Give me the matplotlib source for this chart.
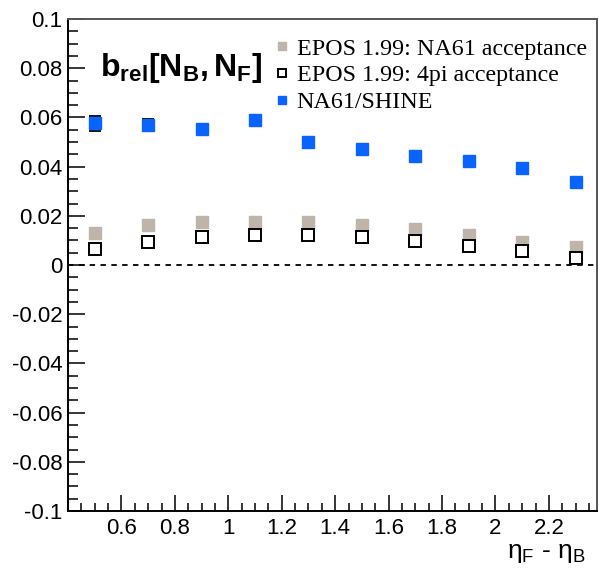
import numpy as np
import matplotlib
matplotlib.use('Agg')
import matplotlib.pyplot as plt
from matplotlib.ticker import MultipleLocator

plt.rcParams['font.family'] = ['Liberation Sans', 'DejaVu Sans']
plt.rcParams['mathtext.fontset'] = 'custom'
plt.rcParams['mathtext.rm'] = 'Liberation Sans'
plt.rcParams['mathtext.it'] = 'Liberation Sans:italic'
plt.rcParams['mathtext.bf'] = 'Liberation Sans:bold'

# eta_F - eta_B gap
eta_gap = [0.5, 0.7, 0.9, 1.1, 1.3, 1.5, 1.7, 1.9, 2.1, 2.3]

# NA61/SHINE data
na61 = [0.0576, 0.0570, 0.0553, 0.0590, 0.0502, 0.0473, 0.0445, 0.0423, 0.0393, 0.0336]
na61_err = [0.0030, 0.0025, 0.0012, 0.0008, 0.0008, 0.0008, 0.0008, 0.0008, 0.0008, 0.0012]

# EPOS 1.99 in NA61 acceptance
epos_na61 = [0.0131, 0.0161, 0.0176, 0.0176, 0.0176, 0.0163, 0.0148, 0.0121, 0.0094, 0.0072]

# EPOS 1.99 in full (4pi) acceptance
epos_4pi = [0.0064, 0.0092, 0.0115, 0.0121, 0.0121, 0.0113, 0.0099, 0.0077, 0.0056, 0.0027]

labels = ['EPOS 1.99: NA61 acceptance', 'EPOS 1.99: 4pi acceptance', 'NA61/SHINE']

GREY = '#bfb4aa'
BLUE = '#0a64fa'

fig = plt.figure(figsize=(5.99, 5.68), dpi=100)
ax = fig.add_axes([68 / 599, 1 - 511 / 568, 529 / 599, 492 / 568])

ax.axhline(0, color='black', lw=1.3, ls=(0, (3, 3)), zorder=1)

h1, = ax.plot(eta_gap, epos_na61, ls='none', marker='s', ms=8, mfc=GREY, mec=GREY, zorder=3)
h2, = ax.plot(eta_gap, epos_4pi, ls='none', marker='s', ms=8, mfc='white', mec='black', mew=1.4, zorder=3)
ax.errorbar(eta_gap, na61, yerr=na61_err, ls='none', color='black', elinewidth=1.3, capsize=4, capthick=1.3, zorder=2)
h3, = ax.plot(eta_gap, na61, ls='none', marker='s', ms=8, mfc=BLUE, mec=BLUE, zorder=4)

ax.set_xlim(0.4, 2.38)
ax.set_ylim(-0.1, 0.1)
ax.xaxis.set_major_locator(MultipleLocator(0.2))
ax.xaxis.set_minor_locator(MultipleLocator(0.05))
ax.yaxis.set_major_locator(MultipleLocator(0.02))
ax.yaxis.set_minor_locator(MultipleLocator(0.005))
ax.set_xticks([0.6, 0.8, 1.0, 1.2, 1.4, 1.6, 1.8, 2.0, 2.2])
ax.set_xticklabels(['0.6', '0.8', '1', '1.2', '1.4', '1.6', '1.8', '2', '2.2'])
ax.set_yticks(np.round(np.arange(-0.1, 0.1001, 0.02), 2))
ax.set_yticklabels(['-0.1', '-0.08', '-0.06', '-0.04', '-0.02', '0',
                    '0.02', '0.04', '0.06', '0.08', '0.1'])

ax.tick_params(which='both', direction='in', top=False, right=False, width=1.1, labelsize=16)
ax.tick_params(axis='x', which='major', length=11.5, pad=5)
ax.tick_params(axis='x', which='minor', length=6)
ax.tick_params(axis='y', which='major', length=12.5, pad=4)
ax.tick_params(axis='y', which='minor', length=7)
for side in ax.spines.values():
    side.set_linewidth(1.4)
ax.spines['right'].set_color('#555555')
ax.spines['top'].set_color('#555555')

ax.text(0.06, 0.9, r'$\mathbf{b_{rel}[N_{B},N_{F}]}$', transform=ax.transAxes,
        fontsize=23, ha='left', va='center')

ax.legend([h1, h2, h3], labels, loc='upper left', bbox_to_anchor=(0.373, 0.981),
          frameon=False, markerscale=0.8, handlelength=0.6, handletextpad=0.3,
          labelspacing=0.2, borderaxespad=0,
          prop={'family': 'Liberation Serif', 'size': 17.3})

fig.text(586 / 599, 1 - 553 / 568, r'$\mathregular{\eta_{F}}$ - $\mathregular{\eta_{B}}$',
         fontsize=19, ha='right', va='center')

fig.savefig('out.png', dpi=100)
